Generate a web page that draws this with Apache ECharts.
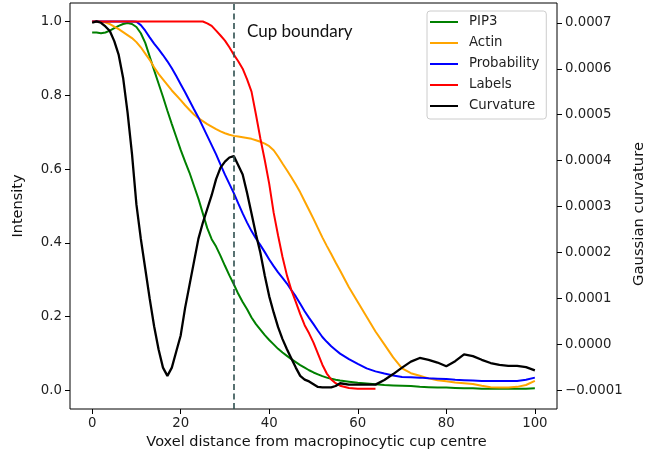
<!DOCTYPE html>
<html lang="en">
<head>
    <meta charset="UTF-8">
    <title>Cup profile</title>
    <style>
    html, body { margin: 0; padding: 0; background: #fff; }
    #main { width: 646px; height: 450px; }
    </style>
</head>
<body>
    <div id="main"></div>
    <script src="https://cdn.jsdelivr.net/npm/echarts@6/dist/echarts.min.js"></script>
    <script>
    // voxel distance from cup centre (x)
    var distance = [0,1,2,3,4,5,6,7,8,9,10,11,12,13,14,15,16,17,18,19,20,21,22,23,24,25,26,27,28,29,
        30,31,32,33,34,35,36,37,38,39,40,41,42,43,44,45,46,47,48,49,50,51,52,53,54,55,56,
        58,60,62,64,66,68,70,72,74,76,78,80,82,84,86,88,90,92,94,96,98,100];

    var pip3 = [0.97,0.97,0.968,0.97,0.975,0.982,0.988,0.993,0.996,0.993,0.985,0.968,0.942,0.905,0.868,0.832,0.796,0.758,0.722,0.687,
        0.652,0.62,0.59,0.555,0.52,0.48,0.44,0.41,0.39,0.365,0.338,0.312,0.288,0.262,0.24,0.22,0.198,0.18,0.165,0.15,
        0.137,0.125,0.113,0.103,0.094,0.085,0.077,0.069,0.062,0.055,0.049,0.044,0.039,0.035,0.032,0.029,0.027,
        0.024,0.021,0.019,0.017,0.015,0.014,0.013,0.012,0.010,0.009,0.008,0.008,0.007,0.006,0.006,0.005,0.005,0.005,0.005,0.005,0.005,0.006];

    var actin = [1.0,1.0,0.999,0.997,0.993,0.986,0.979,0.971,0.963,0.955,0.944,0.93,0.913,0.896,0.876,0.858,0.843,0.828,0.813,0.8,
        0.787,0.773,0.76,0.748,0.738,0.73,0.722,0.715,0.708,0.702,0.697,0.693,0.69,0.688,0.686,0.684,0.682,0.678,0.674,0.669,
        0.662,0.651,0.634,0.615,0.597,0.578,0.558,0.537,0.513,0.489,0.465,0.44,0.415,0.392,0.37,0.347,0.325,
        0.28,0.24,0.2,0.16,0.125,0.09,0.06,0.047,0.04,0.033,0.028,0.025,0.022,0.02,0.018,0.013,0.009,0.008,0.008,0.01,0.015,0.026];

    var probability = [1.0,1.0,1.0,1.0,1.0,1.0,1.0,1.0,1.0,1.0,0.999,0.99,0.975,0.957,0.94,0.925,0.909,0.892,0.873,0.852,
        0.83,0.808,0.785,0.762,0.74,0.715,0.69,0.665,0.64,0.612,0.585,0.56,0.535,0.507,0.48,0.455,0.432,0.412,0.394,0.375,
        0.355,0.337,0.32,0.305,0.29,0.272,0.255,0.235,0.215,0.197,0.18,0.162,0.145,0.132,0.12,0.11,0.1,
        0.085,0.072,0.06,0.052,0.046,0.041,0.037,0.036,0.035,0.033,0.032,0.031,0.029,0.028,0.027,0.026,0.026,0.026,0.026,0.026,0.029,0.035];

    var labels = [1.0,1.0,1.0,1.0,1.0,1.0,1.0,1.0,1.0,1.0,1.0,1.0,1.0,1.0,1.0,1.0,1.0,1.0,1.0,1.0,
        1.0,1.0,1.0,1.0,1.0,1.0,0.995,0.988,0.975,0.962,0.948,0.93,0.91,0.892,0.872,0.843,0.81,0.748,0.683,0.624,
        0.56,0.482,0.42,0.362,0.312,0.272,0.24,0.207,0.177,0.155,0.13,0.1,0.07,0.046,0.03,0.02,0.013,
        0.007,0.005,0.005,0.005,null,null,null,null,null,null,null,null,null,null,null,null,null,null,null,null,null,null];

    // gaussian curvature, in units of 1e-4
    var curvature = [7.0,7.03,7.0,6.92,6.82,6.6,6.3,5.8,5.05,4.15,3.05,2.3,1.65,1.0,0.4,-0.1,-0.5,-0.68,-0.5,-0.15,
        0.2,0.8,1.3,1.8,2.3,2.65,2.95,3.25,3.6,3.85,3.98,4.07,4.1,3.9,3.7,3.3,2.85,2.4,2.0,1.5,
        1.05,0.7,0.38,0.12,-0.1,-0.3,-0.5,-0.68,-0.76,-0.8,-0.86,-0.92,-0.93,-0.93,-0.93,-0.9,-0.84,
        -0.87,-0.87,-0.87,-0.87,-0.77,-0.64,-0.5,-0.37,-0.29,-0.33,-0.39,-0.47,-0.36,-0.21,-0.25,-0.33,-0.4,-0.44,-0.46,-0.46,-0.49,-0.56];
    var CURV_UNIT = 1e-4;

    var xTicks = [0, 20, 40, 60, 80, 100];
    var intensityTicks = [0, 0.2, 0.4, 0.6, 0.8, 1.0];
    var curvatureTicks = [-0.0001, 0, 0.0001, 0.0002, 0.0003, 0.0004, 0.0005, 0.0006, 0.0007];
    var cupBoundary = 32;

    function pairs(vals, scale) {
        return distance.map(function (d, i) {
            var v = vals[i];
            return [d, v == null ? null : v * (scale || 1)];
        });
    }

    var tickFont = { fontFamily: 'DejaVu Sans', fontSize: 13.3, color: '#222' };
    var titleFont = { fontFamily: 'DejaVu Sans', fontSize: 14.5, color: '#111' };

    var myChart = echarts.init(document.getElementById('main'));
    var option = {
        animation: false,
        grid: {
            left: 70, right: 89, top: 3, bottom: 41,
            containLabel: false, outerBoundsMode: 'none',
            show: true, borderColor: '#000', borderWidth: 1, backgroundColor: 'transparent'
        },
        legend: {
            orient: 'vertical',
            left: 427, top: 11,
            padding: [3, 7, 5, 3],
            itemGap: 5,
            itemWidth: 28, itemHeight: 2,
            icon: 'rect',
            backgroundColor: 'rgba(255,255,255,0.8)',
            borderColor: '#cccccc', borderWidth: 1, borderRadius: 3,
            textStyle: { fontFamily: 'DejaVu Sans', fontSize: 13.3, color: '#222', lineHeight: 16, padding: [0, 0, 0, 6] },
            data: ['PIP3', 'Actin', 'Probability', 'Labels', 'Curvature']
        },
        xAxis: {
            type: 'value', min: -5, max: 105,
            name: 'Voxel distance from macropinocytic cup centre',
            nameLocation: 'middle', nameGap: 23,
            nameTextStyle: Object.assign({ padding: [0, 0, 0, 6] }, titleFont),
            axisLine: { show: false, onZero: false },
            axisTick: { show: true, inside: false, length: 5, customValues: xTicks, lineStyle: { color: '#000' } },
            axisLabel: Object.assign({ margin: 8, customValues: xTicks, formatter: function (v) { return String(v); } }, tickFont),
            splitLine: { show: false }
        },
        yAxis: [{
            type: 'value', min: -0.05, max: 1.05,
            name: 'Intensity',
            nameLocation: 'middle', nameGap: 44,
            nameTextStyle: titleFont,
            axisLine: { show: false, onZero: false },
            axisTick: { show: true, inside: false, length: 5, customValues: intensityTicks, lineStyle: { color: '#000' } },
            axisLabel: Object.assign({ margin: 8, customValues: intensityTicks, formatter: function (v) { return v.toFixed(1); } }, tickFont),
            splitLine: { show: false }
        }, {
            type: 'value', min: -0.00014, max: 0.000743,
            position: 'right',
            axisLine: { show: false, onZero: false },
            axisTick: { show: true, inside: false, length: 5, customValues: curvatureTicks, lineStyle: { color: '#000' } },
            axisLabel: Object.assign({ margin: 8, customValues: curvatureTicks, formatter: function (v) {
                return v.toFixed(4).replace('-', '\u2212');
            } }, tickFont),
            splitLine: { show: false }
        }],
        graphic: [{
            type: 'text', left: 247, top: 23,
            style: { text: 'Cup boundary', fontFamily: 'Lato', fontSize: 17, fill: '#111' }
        }, {
            type: 'text', x: 639, y: 214, rotation: Math.PI / 2,
            style: {
                text: 'Gaussian curvature', fontFamily: 'DejaVu Sans', fontSize: 14.8, fill: '#111',
                align: 'center', verticalAlign: 'middle'
            }
        }],
        series: [
            {
                name: 'PIP3', type: 'line', yAxisIndex: 0, showSymbol: false,
                lineStyle: { color: '#008000', width: 2 }, itemStyle: { color: '#008000' },
                data: pairs(pip3),
                markLine: {
                    silent: true, symbol: 'none', label: { show: false },
                    lineStyle: { color: '#2f4f4f', width: 1.6, type: [6, 3.5] },
                    data: [{ xAxis: cupBoundary }]
                }
            },
            {
                name: 'Actin', type: 'line', yAxisIndex: 0, showSymbol: false,
                lineStyle: { color: '#ffa500', width: 2 }, itemStyle: { color: '#ffa500' },
                data: pairs(actin)
            },
            {
                name: 'Probability', type: 'line', yAxisIndex: 0, showSymbol: false,
                lineStyle: { color: '#0000ff', width: 2 }, itemStyle: { color: '#0000ff' },
                data: pairs(probability)
            },
            {
                name: 'Labels', type: 'line', yAxisIndex: 0, showSymbol: false,
                lineStyle: { color: '#ff0000', width: 2 }, itemStyle: { color: '#ff0000' },
                data: pairs(labels)
            },
            {
                name: 'Curvature', type: 'line', yAxisIndex: 1, showSymbol: false,
                lineStyle: { color: '#000000', width: 2.3 }, itemStyle: { color: '#000000' },
                data: pairs(curvature, CURV_UNIT)
            }
        ]
    };
    myChart.setOption(option);
    </script>
</body>
</html>
